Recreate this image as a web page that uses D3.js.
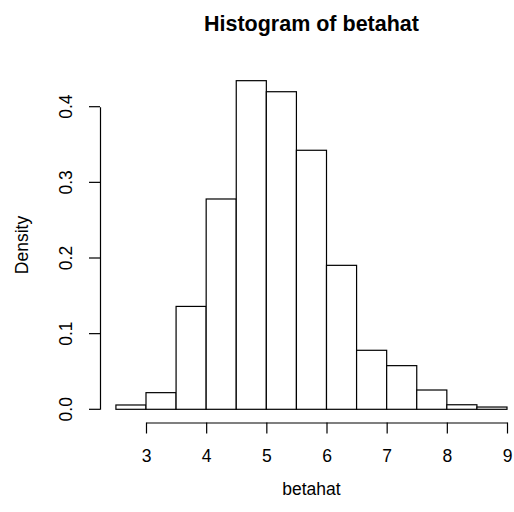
<!DOCTYPE html>
<html><head><meta charset="utf-8">
<script src="https://cdn.jsdelivr.net/npm/d3@7"></script>
<style>body{margin:0;background:#fff}svg{display:block}text{font-family:"Liberation Sans",Arial,sans-serif;fill:#000}</style>
</head><body>
<script>
const binStarts = [2.5,3,3.5,4,4.5,5,5.5,6,6.5,7,7.5,8,8.5];
const binWidth = 0.5;
const density = [0.0057,0.022,0.136,0.278,0.4344,0.4198,0.3424,0.1903,0.078,0.0577,0.0255,0.006,0.003];
const xTicks = [3,4,5,6,7,8,9];
const yTicks = [0,0.1,0.2,0.3,0.4];
const title = "Histogram of betahat";
const xLabel = "betahat";
const yLabel = "Density";

const W=514,H=512;
const svg=d3.select("body").append("svg").attr("width",W).attr("height",H);
const x=d3.scaleLinear().domain([3,9]).range([146,507]);
const y=d3.scaleLinear().domain([0,0.4]).range([409.3,106.7]);
const xMid=x((binStarts[0]+binStarts[binStarts.length-1]+binWidth)/2);
const yMax=d3.max(density);
const yMid=y((-0.04*yMax+1.04*yMax)/2);

svg.append("g").selectAll("rect").data(binStarts).join("rect")
  .attr("x",(d)=>x(d)).attr("width",(d)=>x(d+binWidth)-x(d))
  .attr("y",(d,i)=>y(density[i])).attr("height",(d,i)=>y(0)-y(density[i]))
  .attr("fill","#fff").attr("stroke","#000").attr("stroke-width",1.2);

const xg=svg.append("g").attr("transform","translate(0,422.5)")
  .call(d3.axisBottom(x).tickValues(xTicks).tickFormat(d3.format("d")).tickSize(11).tickPadding(16).tickSizeOuter(0));
const yg=svg.append("g").attr("transform","translate(100,0)")
  .call(d3.axisLeft(y).tickValues(yTicks).tickFormat(d3.format(".1f")).tickSize(11).tickPadding(12).tickSizeOuter(0));
[xg,yg].forEach(g=>{g.select(".domain").attr("stroke","#000").attr("stroke-width",1.2);
  g.selectAll(".tick line").attr("stroke","#000").attr("stroke-width",1.2);
  g.selectAll("text").attr("font-size",17.5).attr("font-family","'Liberation Sans',Arial,sans-serif").attr("fill","#000");});
yg.selectAll(".tick").attr("transform",null);
yg.selectAll(".tick line").attr("y1",d=>y(d)).attr("y2",d=>y(d));
yg.selectAll(".tick text").attr("dy",null).attr("x",0).attr("y",0).attr("text-anchor","middle")
  .attr("transform",d=>`translate(-28,${y(d)}) rotate(-90)`);

svg.append("text").attr("x",xMid).attr("y",31).attr("text-anchor","middle")
  .attr("font-size",21.5).attr("font-weight","bold").text(title);
svg.append("text").attr("x",xMid).attr("y",495).attr("text-anchor","middle")
  .attr("font-size",17.5).text(xLabel);
svg.append("text").attr("transform",`translate(28,${yMid}) rotate(-90)`).attr("text-anchor","middle")
  .attr("font-size",17.5).text(yLabel);
</script>
</body></html>
